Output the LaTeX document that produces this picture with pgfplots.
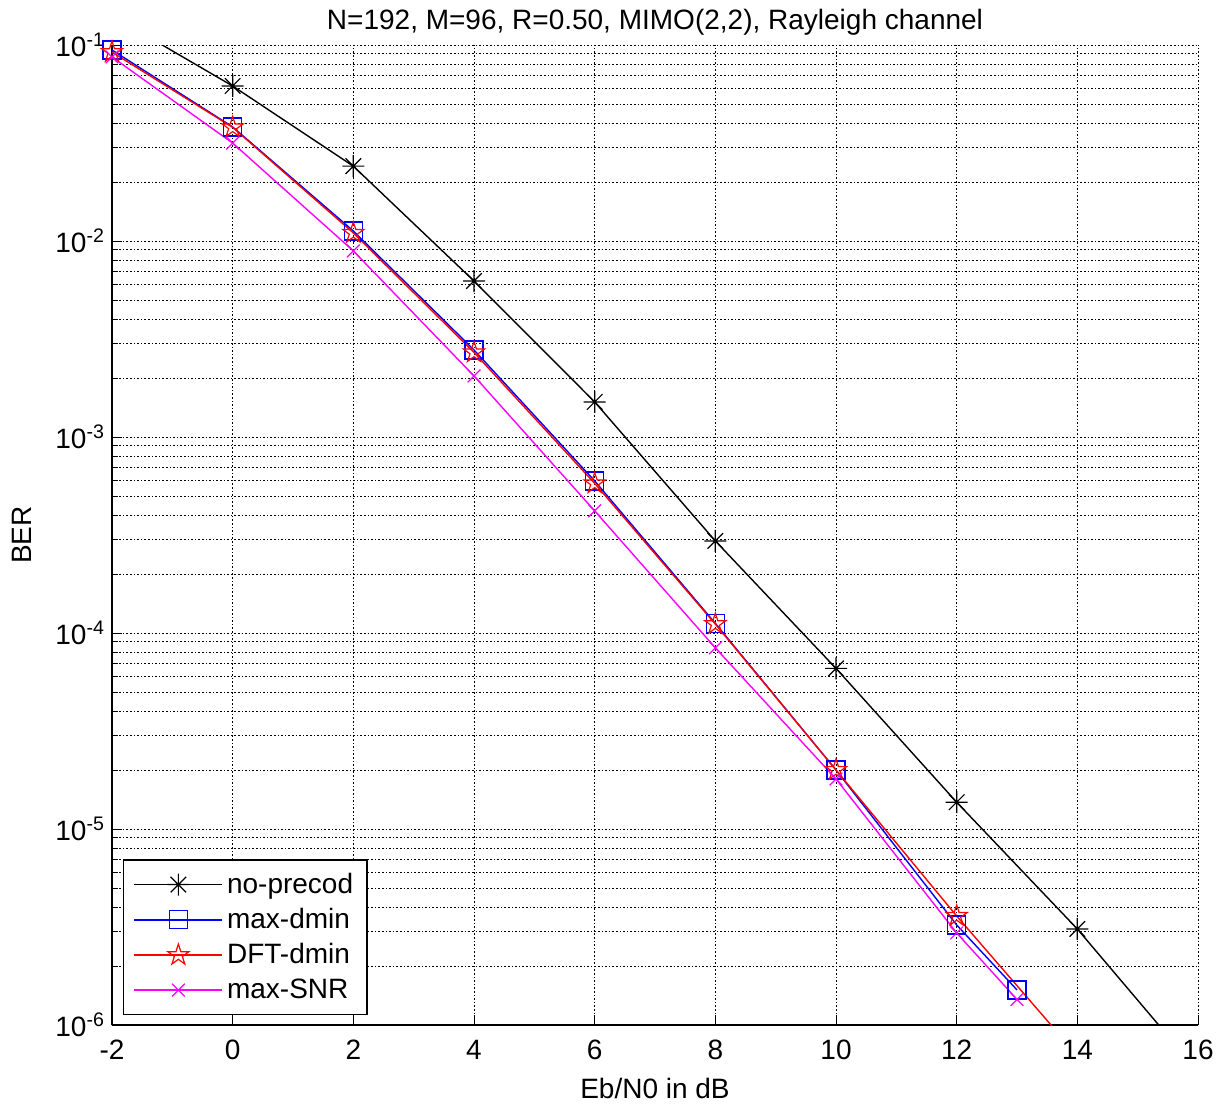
\documentclass[border=0pt]{standalone}
\usepackage{fontspec}
\setmainfont{Liberation Sans}
\usepackage{pgfplots}
\pgfplotsset{compat=1.18}
\pgfdeclareplotmark{matstar}{%
 \pgfpathmoveto{\pgfqpoint{-\pgfplotmarksize}{0pt}}\pgfpathlineto{\pgfqpoint{\pgfplotmarksize}{0pt}}%
 \pgfpathmoveto{\pgfqpoint{0pt}{-\pgfplotmarksize}}\pgfpathlineto{\pgfqpoint{0pt}{\pgfplotmarksize}}%
 \pgfpathmoveto{\pgfqpoint{-.7071\pgfplotmarksize}{-.7071\pgfplotmarksize}}\pgfpathlineto{\pgfqpoint{.7071\pgfplotmarksize}{.7071\pgfplotmarksize}}%
 \pgfpathmoveto{\pgfqpoint{-.7071\pgfplotmarksize}{.7071\pgfplotmarksize}}\pgfpathlineto{\pgfqpoint{.7071\pgfplotmarksize}{-.7071\pgfplotmarksize}}%
 \pgfusepathqstroke}
\pgfdeclareplotmark{pentagram}{%
 \pgfpathmoveto{\pgfpointpolar{90}{\pgfplotmarksize}}%
 \pgfpathlineto{\pgfpointpolar{126}{0.382\pgfplotmarksize}}%
 \pgfpathlineto{\pgfpointpolar{162}{\pgfplotmarksize}}%
 \pgfpathlineto{\pgfpointpolar{198}{0.382\pgfplotmarksize}}%
 \pgfpathlineto{\pgfpointpolar{234}{\pgfplotmarksize}}%
 \pgfpathlineto{\pgfpointpolar{270}{0.382\pgfplotmarksize}}%
 \pgfpathlineto{\pgfpointpolar{306}{\pgfplotmarksize}}%
 \pgfpathlineto{\pgfpointpolar{342}{0.382\pgfplotmarksize}}%
 \pgfpathlineto{\pgfpointpolar{18}{\pgfplotmarksize}}%
 \pgfpathlineto{\pgfpointpolar{54}{0.382\pgfplotmarksize}}%
 \pgfpathclose\pgfusepathqstroke}
\definecolor{mblue}{rgb}{0,0,1}
\definecolor{mred}{rgb}{1,0,0}
\definecolor{mmag}{rgb}{1,0,1}
\begin{document}
\begin{tikzpicture}
\begin{axis}[
  scale only axis,
  width=543pt, height=490pt,
  ymode=log,
  xmin=-2, xmax=16, ymin=1e-6, ymax=1e-1,
  axis x line*=bottom, axis y line*=left,
  axis line style={black, line width=0.7pt},
  xtick={-2,0,2,4,6,8,10,12,14,16},
  xticklabels={-2,0,2,4,6,8,10,12,14,16},
  ytick={1e-6,1e-5,1e-4,1e-3,1e-2,1e-1},
  yticklabels={10\textsuperscript{-6},10\textsuperscript{-5},10\textsuperscript{-4},10\textsuperscript{-3},10\textsuperscript{-2},10\textsuperscript{-1}},
  tick align=inside,
  major tick length=5pt, minor tick length=3pt,
  tick style={black, line width=0.5pt},
  grid=both,
  major grid style={black, line width=0.5pt, dash pattern=on 0.8pt off 1pt},
  minor grid style={black, line width=0.5pt, dash pattern=on 0.8pt off 1pt},
  ticklabel style={font=\fontsize{14}{16}\selectfont},
  xticklabel style={yshift=-4pt},
  every axis title/.style={font=\fontsize{14}{16}\selectfont, at={(axis description cs:0.5,1.0235)}, anchor=center},
  title={N=192, M=96, R=0.50, MIMO(2,2), Rayleigh channel},
  xlabel={Eb/N0 in dB},
  ylabel={BER},
  every axis x label/.style={font=\fontsize{14}{16}\selectfont, at={(axis description cs:0.5,-0.0643)}, anchor=center},
  every axis y label/.style={font=\fontsize{14}{16}\selectfont, at={(axis description cs:-0.0829,0.5)}, rotate=90, anchor=center},
  legend style={at={(axis description cs:0.0101,0.0102)}, anchor=south west, draw=black, line width=0.7pt, fill=white,
    font=\fontsize{14}{16}\selectfont, row sep=2pt, inner xsep=5pt, inner ysep=4.5pt,
    every even column/.append style={column sep=5pt}},
  legend cell align=left,
  legend image code/.code={\draw[mark repeat=2,mark phase=2] plot coordinates {(0pt,0pt) (22pt,0pt) (44pt,0pt)};},
]
\addplot[black, line width=0.7pt, mark=matstar, mark size=5.5pt, mark options={solid, line width=0.6pt}] coordinates {
 (-2,0.141) (0,0.0618) (2,0.0241) (4,0.00625) (6,0.00151) (8,2.95e-4) (10,6.6e-5) (12,1.37e-5) (14,3.09e-6) (16,5.8e-7)};
\addlegendentry{no-precod}
\addplot[mblue, line width=0.7pt, mark=square, mark size=4.5pt, mark options={solid, line width=0.6pt}] coordinates {
 (-2,0.0943) (0,0.0382) (2,0.01125) (4,0.00278) (6,5.97e-4) (8,1.12e-4) (10,2.0e-5) (12,3.24e-6) (13,1.51e-6)};
\addlegendentry{max-dmin}
\addplot[mred, line width=0.7pt, mark=pentagram, mark size=5.5pt, mark options={solid, line width=0.6pt}] coordinates {
 (-2,0.092) (0,0.038) (2,0.011) (4,0.0027) (6,5.8e-4) (8,1.11e-4) (10,2.0e-5) (12,3.6e-6) (14,7.0e-7)};
\addlegendentry{DFT-dmin}
\addplot[mmag, line width=0.7pt, mark=x, mark size=4.5pt, mark options={solid, line width=0.6pt}] coordinates {
 (-2,0.0869) (0,0.0316) (2,0.0089) (4,0.00205) (6,4.2e-4) (8,8.4e-5) (10,1.8e-5) (12,2.95e-6) (13,1.35e-6)};
\addlegendentry{max-SNR}
\end{axis}
\pgfresetboundingbox
\path ([shift={(-56pt,-39pt)}]current axis.south west) rectangle ([shift={(13.5pt,22.5pt)}]current axis.north east);
\end{tikzpicture}
\end{document}
